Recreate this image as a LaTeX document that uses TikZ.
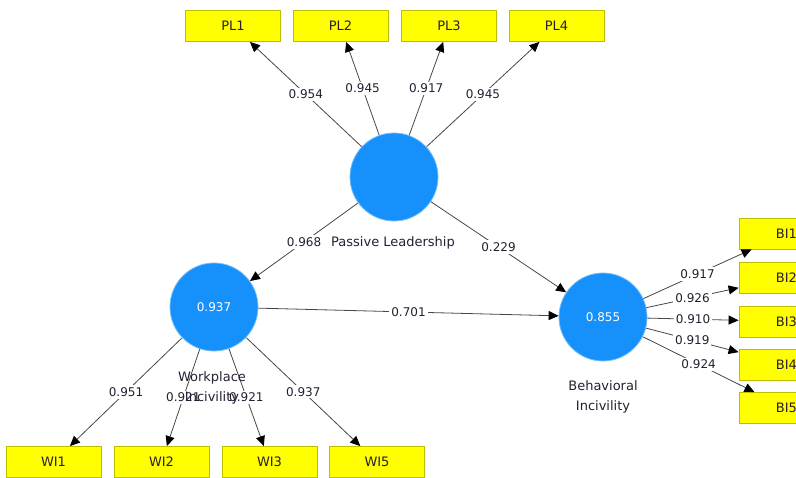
\documentclass[tikz,border=0pt]{standalone}
\usepackage{fontspec}
\setmainfont{DejaVu Sans}
\usetikzlibrary{arrows.meta}
\definecolor{lvblue}{RGB}{22,144,250}
\definecolor{lvedge}{RGB}{120,190,250}
\definecolor{indfill}{RGB}{255,255,0}
\definecolor{inddraw}{RGB}{190,190,0}
\definecolor{txt}{RGB}{40,30,50}
\begin{document}
\begin{tikzpicture}[x=1pt,y=-1pt,
  every node/.style={font=\fontsize{13}{19.5}\selectfont, text=txt},
  latent/.style={circle, fill=lvblue, draw=lvedge, line width=0.8pt, minimum size=88pt, inner sep=0pt, text=white, font=\fontsize{12}{14}\selectfont},
  ind/.style={rectangle, fill=indfill, draw=inddraw, line width=0.8pt, minimum width=95pt, minimum height=31pt, inner sep=0pt},
  conn/.style={draw=black!72, line width=0.8pt, -{Triangle[length=10pt,width=9pt,color=black]}},
  lbl/.style={fill=white, inner sep=2pt, pos=0.5, font=\fontsize{12}{14}\selectfont},
  vname/.style={align=center, inner sep=0pt}
]
\useasboundingbox (0,0) rectangle (796,478);
% latent variables
\node[latent] (PL) at (394,177) {};
\node[latent] (WI) at (214,307) {0.937};
\node[latent] (BI) at (603,317) {0.855};
% indicators
\node[ind] (PL1) at (233,26) {PL1};
\node[ind] (PL2) at (340.5,26) {PL2};
\node[ind] (PL3) at (449,26) {PL3};
\node[ind] (PL4) at (556.5,26) {PL4};
\node[ind] (WI1) at (53.5,462) {WI1};
\node[ind] (WI2) at (161.5,462) {WI2};
\node[ind] (WI3) at (269.5,462) {WI3};
\node[ind] (WI5) at (377,462) {WI5};
\node[ind] (BI1) at (786.5,233.5) {BI1};
\node[ind] (BI2) at (786.5,277.5) {BI2};
\node[ind] (BI3) at (786.5,321.5) {BI3};
\node[ind] (BI4) at (786.5,364.5) {BI4};
\node[ind] (BI5) at (786.5,408) {BI5};
% outer loadings
\draw[conn] (PL) -- node[lbl]{0.954} (PL1);
\draw[conn] (PL) -- node[lbl]{0.945} (PL2);
\draw[conn] (PL) -- node[lbl]{0.917} (PL3);
\draw[conn] (PL) -- node[lbl]{0.945} (PL4);
\draw[conn] (WI) -- node[lbl]{0.951} (WI1);
\draw[conn] (WI) -- node[lbl]{0.921} (WI2);
\draw[conn] (WI) -- node[lbl]{0.921} (WI3);
\draw[conn] (WI) -- node[lbl]{0.937} (WI5);
\draw[conn] (BI) -- node[lbl]{0.917} (BI1);
\draw[conn] (BI) -- node[lbl]{0.926} (BI2);
\draw[conn] (BI) -- node[lbl]{0.910} (BI3);
\draw[conn] (BI) -- node[lbl]{0.919} (BI4);
\draw[conn] (BI) -- node[lbl]{0.924} (BI5);
% structural paths
\draw[conn] (PL) -- node[lbl]{0.968} (WI);
\draw[conn] (PL) -- node[lbl]{0.229} (BI);
\draw[conn] (WI) -- node[lbl]{0.701} (BI);
% construct names
\node[vname] (PLt) at (393,243) {Passive Leadership};
\node[vname] (WIt) at (212,388) {Workplace\\Incivility};
\node[vname] (BIt) at (603,397) {Behavioral\\Incivility};
\end{tikzpicture}
\end{document}
